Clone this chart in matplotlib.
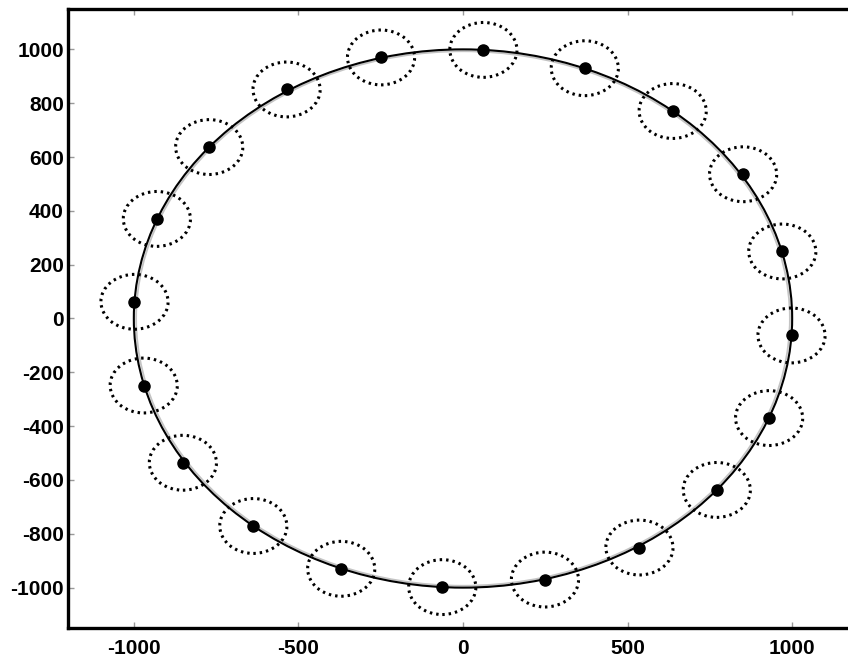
import matplotlib
matplotlib.use("Agg")
import matplotlib.pyplot as plt
from matplotlib.patches import Ellipse, Circle

# Measured points (data units)
point_x = [62, 370, 637, 851, 970, 998, 930, 771, 536, 249,
           -63, -370, -637, -851, -970, -998, -930, -771, -536, -249]
point_y = [998, 930, 771, 536, 249, -63, -370, -637, -851, -970,
           -998, -930, -771, -536, -249, 62, 370, 637, 851, 970]
error_radius = 102          # dotted uncertainty circle radius
fit_radius = 1000           # black fitted circle
ref_radius = 993            # gray reference circle
x_ticks = [-1000, -500, 0, 500, 1000]
y_ticks = [-1000, -800, -600, -400, -200, 0, 200, 400, 600, 800, 1000]

plt.rcParams['font.family'] = ['Liberation Sans', 'DejaVu Sans']
plt.rcParams['axes.unicode_minus'] = False

fig = plt.figure(figsize=(8.48, 6.61), dpi=100)
W, H = 848, 661
left_px, top_px, bottom_px = 68, 9, 628
width_px = 790
ax = fig.add_axes([left_px / W, (H - bottom_px) / H, width_px / W, (bottom_px - top_px) / H])

ax.add_patch(Circle((0, 0), ref_radius, fill=False, edgecolor='#c4c4c4', lw=1.3, zorder=2))
ax.add_patch(Circle((0, 0), fit_radius, fill=False, edgecolor='black', lw=1.5, zorder=3))

for x, y in zip(point_x, point_y):
    ax.add_patch(Ellipse((x, y), 2 * error_radius, 2 * error_radius, fill=False,
                         edgecolor='black', lw=2.2, linestyle=(0, (0.8, 1.3)), zorder=4))

ax.plot(point_x, point_y, 'o', color='black', markersize=8, zorder=5)

ax.set_xlim(-1200, 1200)
ax.set_ylim(-1150, 1150)
ax.set_xticks(x_ticks)
ax.set_yticks(y_ticks)
ax.tick_params(direction='in', length=4, width=1, color='#999999',
               top=True, right=False, labelsize=15)
ax.tick_params(axis='x', pad=8)
ax.tick_params(axis='y', pad=3)
for lab in ax.get_xticklabels() + ax.get_yticklabels():
    lab.set_fontweight('bold')
for s in ['left', 'bottom', 'top']:
    ax.spines[s].set_linewidth(2.4)
ax.spines['right'].set_visible(False)

fig.savefig('out.png', dpi=100)
